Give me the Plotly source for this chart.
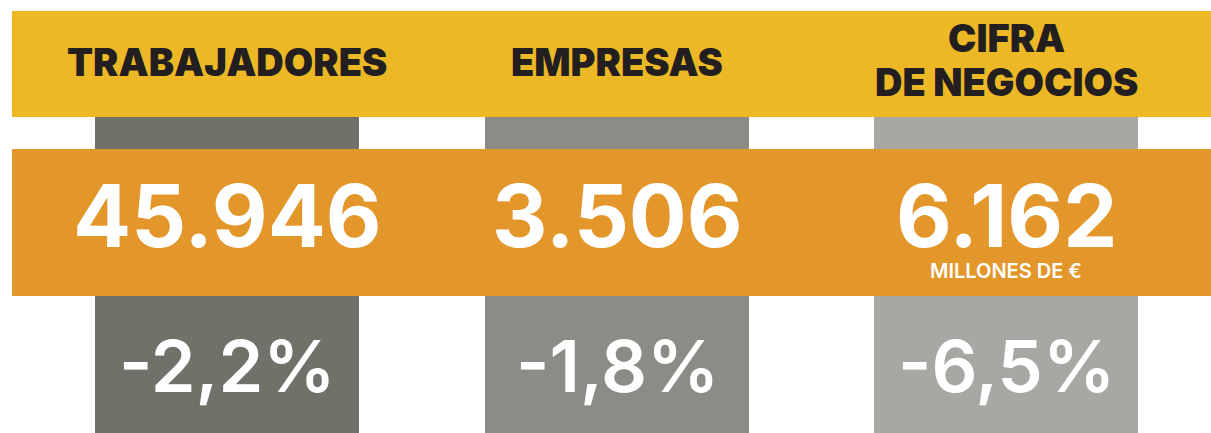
import plotly.graph_objects as go

# Data
categories = [["TRABAJADORES"], ["EMPRESAS"], ["CIFRA", "DE NEGOCIOS"]]
values = ["45.946", "3.506", "6.162"]
units = ["", "", "MILLONES DE €"]
changes = ["-2,2%", "-1,8%", "-6,5%"]

# Style
W, H = 1211, 433
YELLOW = "#EDB825"
ORANGE = "#E3962A"
GRAYS = ["#71716A", "#8D8B86", "#A8A7A3"]
DARK = "#231F20"
FONT = "Inter"

col_left = [95, 485, 874]
col_right = [359, 749, 1138]

fig = go.Figure()
shapes = []
for i in range(3):
    shapes.append(dict(type="rect", xref="x", yref="y", x0=col_left[i], x1=col_right[i],
                       y0=117, y1=H, fillcolor=GRAYS[i], line_width=0, layer="below"))
shapes.append(dict(type="rect", xref="x", yref="y", x0=12, x1=W, y0=11, y1=117,
                   fillcolor=YELLOW, line_width=0, layer="below"))
shapes.append(dict(type="rect", xref="x", yref="y", x0=12, x1=W, y0=149, y1=296,
                   fillcolor=ORANGE, line_width=0, layer="below"))

annotations = []
for i in range(3):
    cx = (col_left[i] + col_right[i]) / 2
    lines = categories[i]
    ys = [61] if len(lines) == 1 else [37, 81]
    for ln, yy in zip(lines, ys):
        annotations.append(dict(x=cx, y=yy + 1, xref="x", yref="y", text=ln, showarrow=False,
                                xanchor="center", yanchor="middle",
                                font=dict(family=FONT, size=38, color=DARK, weight=900)))
    annotations.append(dict(x=cx, y=215 + 1, xref="x", yref="y", text=values[i], showarrow=False,
                            xanchor="center", yanchor="middle",
                            font=dict(family=FONT, size=86, color="white", weight=700)))
    if units[i]:
        annotations.append(dict(x=cx, y=271, xref="x", yref="y", text=units[i], showarrow=False,
                                xanchor="center", yanchor="middle",
                                font=dict(family=FONT, size=20, color="white", weight=600)))
    annotations.append(dict(x=cx, y=364 + 1, xref="x", yref="y", text=changes[i], showarrow=False,
                            xanchor="center", yanchor="middle",
                            font=dict(family=FONT, size=72, color="white", weight=600)))

fig.update_layout(
    width=W, height=H, margin=dict(l=0, r=0, t=0, b=0),
    paper_bgcolor="white", plot_bgcolor="white",
    xaxis=dict(range=[0, W], visible=False, fixedrange=True),
    yaxis=dict(range=[H, 0], visible=False, fixedrange=True),
    shapes=shapes, annotations=annotations, showlegend=False,
)
fig.write_html("out.html", config={"displayModeBar": False},
               post_script="document.body.style.margin='0';document.body.style.overflow='hidden';")
